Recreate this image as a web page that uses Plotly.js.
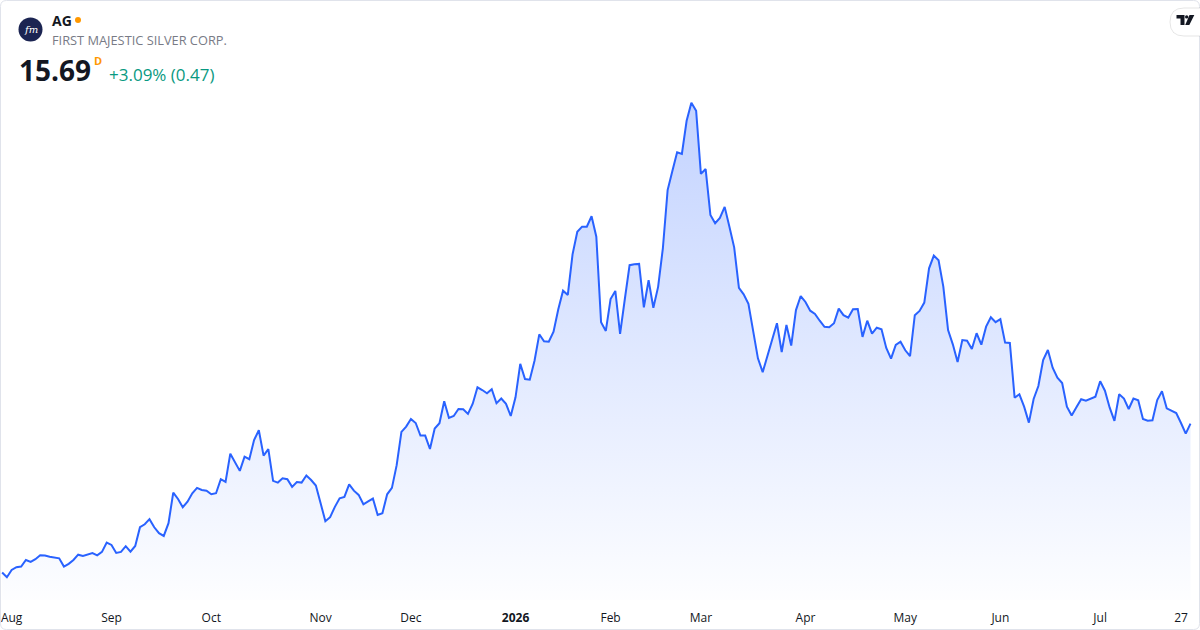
<!DOCTYPE html>
<html>
<head>
<meta charset="utf-8">
<script src="https://cdn.plot.ly/plotly-3.0.1.min.js"></script>
<style>
html,body{margin:0;padding:0;background:#ffffff;}
#chart{width:1200px;height:630px;}
</style>
</head>
<body>
<div id="chart"></div>
<script>
// Daily closes of AG (First Majestic Silver Corp.)
const prices = [
8.69,8.47,8.81,8.94,8.97,9.28,9.19,9.32,9.50,9.49,
9.43,9.41,9.36,8.97,9.10,9.28,9.53,9.47,9.55,9.61,
9.50,9.66,10.10,9.99,9.61,9.66,9.93,9.67,9.94,10.82,
10.96,11.20,10.82,10.54,10.41,11.01,12.45,12.15,11.76,12.02,
12.42,12.67,12.57,12.54,12.37,12.42,13.08,12.95,14.28,13.90,
13.47,14.14,14.02,14.92,15.38,14.19,14.49,13.00,12.92,13.12,
13.08,12.72,12.95,12.92,13.25,13.04,12.78,11.95,11.10,11.29,
11.78,12.18,12.25,12.84,12.54,12.34,11.90,12.04,12.17,11.40,
11.48,12.37,12.67,13.74,15.30,15.55,15.91,15.72,15.13,15.13,
14.50,15.46,15.71,16.74,15.96,16.05,16.38,16.37,16.15,16.63,
17.40,17.27,17.12,17.31,16.65,16.87,16.62,16.05,16.93,18.50,
17.79,17.76,18.65,19.89,19.56,19.54,20.01,21.07,21.94,21.74,
23.65,24.71,24.95,24.95,25.44,24.48,20.46,20.05,21.55,21.93,
19.91,21.55,23.14,23.18,23.20,21.16,22.43,21.14,22.12,23.93,
26.67,27.57,28.45,28.37,29.93,30.78,30.40,27.43,27.66,25.50,
25.11,25.36,25.88,24.95,23.98,22.07,21.77,21.32,20.09,18.76,
18.11,18.87,19.70,20.41,19.06,20.33,19.36,21.03,21.69,21.41,
21.00,20.85,20.53,20.24,20.22,20.41,21.10,20.79,20.67,21.07,
21.08,19.77,20.53,19.92,20.20,20.13,19.25,18.75,19.39,19.54,
19.14,18.86,20.79,20.99,21.38,22.99,23.59,23.37,22.13,20.09,
19.42,18.59,19.62,19.59,19.20,19.94,19.40,20.25,20.69,20.46,
20.60,19.50,19.48,16.91,17.07,16.49,15.74,16.85,17.46,18.68,
19.15,18.32,17.85,17.60,16.49,16.07,16.46,16.84,16.77,16.88,
16.96,17.68,17.24,16.44,15.82,17.07,16.87,16.38,16.87,16.79,
15.91,15.83,15.85,16.80,17.21,16.41,16.29,16.19,15.72,15.22,
15.69
];
const firstDay = '2025-07-30';
const marketHolidays = ['2025-09-01','2025-11-27','2025-12-25','2026-01-01','2026-01-19',
  '2026-02-16','2026-04-03','2026-05-25','2026-06-19','2026-07-03'];
const tickDates = ['2025-08-01','2025-09-02','2025-10-01','2025-11-03','2025-12-01','2026-01-02',
  '2026-02-02','2026-03-02','2026-04-01','2026-05-01','2026-06-01','2026-07-01','2026-07-27'];
const tickLabels = ['Aug','Sep','Oct','Nov','Dec','<b>2026</b>','Feb','Mar','Apr','May','Jun','Jul','27'];
const symbol = 'AG';
const companyName = 'FIRST MAJESTIC SILVER CORP.';
const lastPrice = '15.69';
const change = '+3.09% (0.47)';

// trading-day calendar
const dates = [];
(function(){
  const d = new Date(firstDay + 'T00:00:00Z');
  while (dates.length < prices.length) {
    const dow = d.getUTCDay();
    const s = d.toISOString().slice(0,10);
    if (dow !== 0 && dow !== 6 && marketHolidays.indexOf(s) < 0) dates.push(s);
    d.setUTCDate(d.getUTCDate() + 1);
  }
})();

const W = 1200, H = 630, T = 95, B = 30;
const PH = H - T - B;
const X = px => px / W;
const Y = py => (H - B - py) / PH;

const yMin = 7.40, yMax = 31.14;
const pmax = Math.max.apply(null, prices);

const trace = {
  type: 'scatter', mode: 'lines',
  x: dates, y: prices,
  line: {color: '#2962ff', width: 2, shape: 'linear'},
  fill: 'tozeroy',
  fillgradient: {type: 'vertical', start: yMin, stop: pmax,
    colorscale: [[0, 'rgba(41,98,255,0.01)'], [1, 'rgba(41,98,255,0.28)']]},
  hoverinfo: 'skip'
};

function rr(x0,y0,x1,y1,r){ // rounded rect path in paper coords
  return 'M'+X(x0+r)+','+Y(y0)+' L'+X(x1-r)+','+Y(y0)+' Q'+X(x1)+','+Y(y0)+' '+X(x1)+','+Y(y0+r)+
    ' L'+X(x1)+','+Y(y1-r)+' Q'+X(x1)+','+Y(y1)+' '+X(x1-r)+','+Y(y1)+
    ' L'+X(x0+r)+','+Y(y1)+' Q'+X(x0)+','+Y(y1)+' '+X(x0)+','+Y(y1-r)+
    ' L'+X(x0)+','+Y(y0+r)+' Q'+X(x0)+','+Y(y0)+' '+X(x0+r)+','+Y(y0)+' Z';
}
function poly(pts){
  return 'M' + pts.map(p => X(p[0]) + ',' + Y(p[1])).join(' L') + ' Z';
}

const shapes = [
  {type:'path', xref:'paper', yref:'paper', path: rr(0.5,0.5,1199.5,629.5,6),
   line:{color:'#e0e3eb', width:1}, fillcolor:'rgba(0,0,0,0)', layer:'above'},
  // logo circle
  {type:'circle', xref:'paper', yref:'paper', x0:X(18.5), x1:X(42.5), y0:Y(41.5), y1:Y(17.5),
   fillcolor:'#1b2452', line:{width:0}},
  // orange market dot
  {type:'circle', xref:'paper', yref:'paper', x0:X(75), x1:X(81), y0:Y(23), y1:Y(17),
   fillcolor:'#ff9800', line:{width:0}},
  // TradingView badge
  {type:'path', xref:'paper', yref:'paper', path: rr(1170,8,1214,36,14),
   fillcolor:'#ffffff', line:{color:'rgba(0,0,0,0.10)', width:1}},
  {type:'path', xref:'paper', yref:'paper', path: poly([[1176.5,15],[1184.5,15],[1184.5,25],[1180.5,25],[1180.5,18.5],[1176.5,18.5]]),
   fillcolor:'#131722', line:{width:0}},
  {type:'circle', xref:'paper', yref:'paper', x0:X(1185), x1:X(1188.4), y0:Y(18.6), y1:Y(15.2),
   fillcolor:'#131722', line:{width:0}},
  {type:'path', xref:'paper', yref:'paper', path: poly([[1189.5,15],[1194.3,15],[1189.3,25],[1185.2,25]]),
   fillcolor:'#131722', line:{width:0}}
];

const annotations = [
  {xref:'paper', yref:'paper', x:X(30.5), y:Y(29.5), text:'<i>fm</i>', showarrow:false,
   xanchor:'center', yanchor:'middle', font:{family:'DejaVu Serif, serif', size:10, color:'#ffffff'}},
  {xref:'paper', yref:'paper', x:X(50), y:Y(20), text:'<b>'+symbol+'</b>', showarrow:false,
   xanchor:'left', yanchor:'middle', font:{family:'Open Sans, sans-serif', size:14, color:'#131722'}},
  {xref:'paper', yref:'paper', x:X(50), y:Y(40), text:companyName, showarrow:false,
   xanchor:'left', yanchor:'middle', font:{family:'Open Sans, sans-serif', size:12.8, color:'#787b86'}},
  {xref:'paper', yref:'paper', x:X(17), y:Y(70), text:'<b>'+lastPrice+'</b>', showarrow:false,
   xanchor:'left', yanchor:'middle', font:{family:'Open Sans, sans-serif', size:28, color:'#131722'}},
  {xref:'paper', yref:'paper', x:X(97.5), y:Y(61), text:'<b>D</b>', showarrow:false,
   xanchor:'center', yanchor:'middle', font:{family:'Open Sans, sans-serif', size:11, color:'#ff9800'}},
  {xref:'paper', yref:'paper', x:X(107), y:Y(75), text:change, showarrow:false,
   xanchor:'left', yanchor:'middle', font:{family:'Open Sans, sans-serif', size:17, color:'#089981'}}
];

const layout = {
  width: W, height: H,
  margin: {l:0, r:0, t:T, b:B, pad:0},
  paper_bgcolor: '#ffffff', plot_bgcolor: '#ffffff',
  showlegend: false,
  xaxis: {type:'category', range:[-0.45, 252.0], tickmode:'array', tickvals: tickDates, ticktext: tickLabels,
    showgrid:false, zeroline:false, showline:false, ticks:'outside', ticklen:7, tickcolor:'rgba(0,0,0,0)',
    tickfont:{family:'Open Sans, sans-serif', size:12, color:'#131722'}, fixedrange:true},
  yaxis: {range:[yMin, yMax], visible:false, showgrid:false, zeroline:false, fixedrange:true},
  shapes: shapes,
  annotations: annotations
};

Plotly.newPlot('chart', [trace], layout, {staticPlot:true, displayModeBar:false});
</script>
</body>
</html>
